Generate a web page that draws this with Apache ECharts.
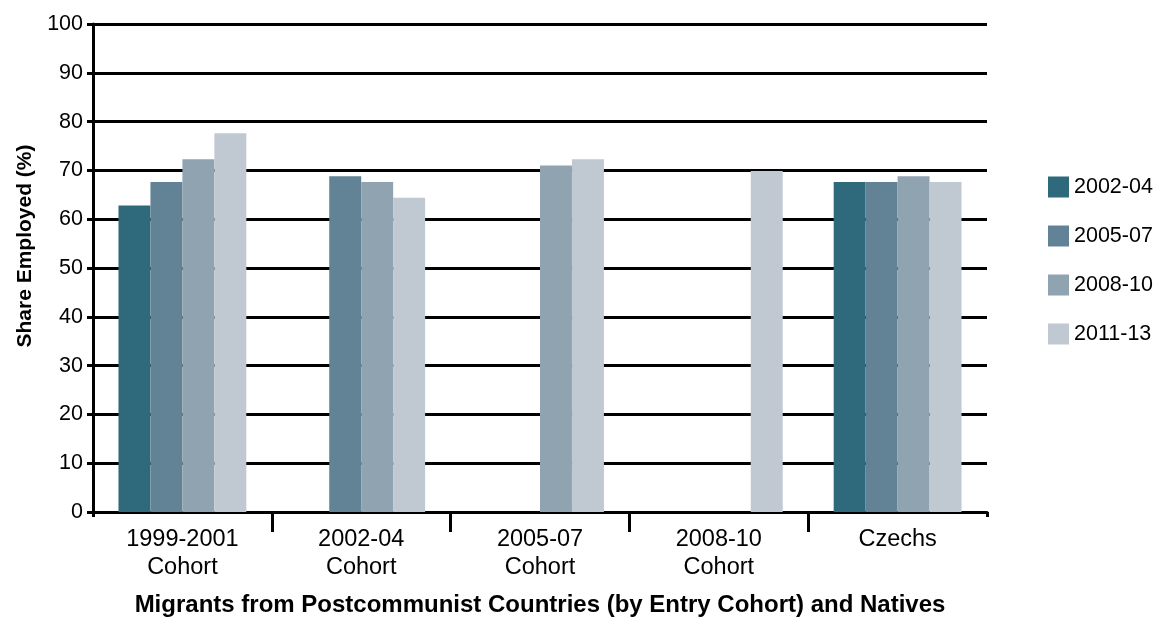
<!DOCTYPE html>
<html><head><meta charset="utf-8">
<script src="https://cdn.jsdelivr.net/npm/echarts@6/dist/echarts.min.js"></script>
<style>html,body{margin:0;padding:0;background:#fff}#c{width:1165px;height:620px}</style>
</head><body><div id="c"></div>
<script>
const categories = ['1999-2001\nCohort', '2002-04\nCohort', '2005-07\nCohort', '2008-10\nCohort', 'Czechs'];
const seriesNames = ['2002-04', '2005-07', '2008-10', '2011-13'];
const s2002_04 = [62.8, null, null, null, 67.6];
const s2005_07 = [67.6, 68.8, null, null, 67.6];
const s2008_10 = [72.3, 67.6, 71.0, null, 68.8];
const s2011_13 = [77.6, 64.4, 72.3, 69.9, 67.6];
const yTicks = [0, 10, 20, 30, 40, 50, 60, 70, 80, 90, 100];
const colors = ['#2F6A7C', '#628396', '#8FA3B0', '#C0C8D2'];
const allData = [s2002_04, s2005_07, s2008_10, s2011_13];
// band boundaries (0..n) used only for the long separator ticks between categories
const boundaries = categories.map((c, i) => i).concat([categories.length]);

const font = 'Liberation Sans, Arial, sans-serif';
const chart = echarts.init(document.getElementById('c'));
chart.setOption({
  animation: false,
  grid: {left: 93, right: 178, top: 24, bottom: 108, outerBoundsMode: 'none', containLabel: false},
  legend: {
    orient: 'vertical', left: 1043, top: 171,
    itemWidth: 21, itemHeight: 21, itemGap: 27,
    icon: 'rect',
    textStyle: {fontFamily: font, fontSize: 21.5, color: '#000'},
    data: seriesNames
  },
  xAxis: [{
    type: 'category', data: categories,
    name: 'Migrants from Postcommunist Countries (by Entry Cohort) and Natives',
    nameLocation: 'middle', nameGap: 81,
    nameTextStyle: {fontFamily: font, fontSize: 24, fontWeight: 'bold', color: '#000'},
    axisLine: {lineStyle: {color: '#000', width: 3}},
    axisTick: {show: true, length: 5, lineStyle: {color: '#000', width: 3}},
    axisLabel: {fontFamily: font, fontSize: 23.5, color: '#000', margin: 14, lineHeight: 28}
  }, {
    type: 'category', data: boundaries, position: 'bottom', boundaryGap: false,
    axisLine: {show: false},
    axisLabel: {show: false},
    axisTick: {show: true, length: 20, lineStyle: {color: '#000', width: 3},
      interval: (i) => i > 0 && i < categories.length}
  }],
  yAxis: {
    type: 'value', min: 0, max: 100, interval: 10,
    name: 'Share Employed (%)', nameLocation: 'middle', nameGap: 57,
    nameTextStyle: {fontFamily: font, fontSize: 21, fontWeight: 'bold', color: '#000', padding: [0, 0, 0, 44]},
    axisLine: {show: true, lineStyle: {color: '#000', width: 3}},
    axisTick: {show: true, length: 6, lineStyle: {color: '#000', width: 3}},
    axisLabel: {fontFamily: font, fontSize: 21.5, color: '#000', margin: 10,
      formatter: v => yTicks.includes(v) ? String(v) : ''},
    splitLine: {lineStyle: {color: '#000', width: 3}}
  },
  series: seriesNames.map((n, i) => ({
    name: n, type: 'bar', data: allData[i], xAxisIndex: 0,
    barGap: '0%', barCategoryGap: '28.5%',
    itemStyle: {color: colors[i]}
  }))
});
</script></body></html>
